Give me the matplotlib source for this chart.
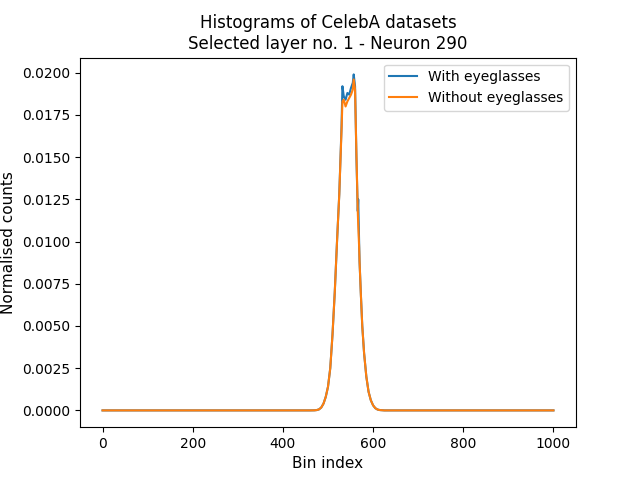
import matplotlib
matplotlib.use("Agg")
import matplotlib.pyplot as plt

# bin positions sampled along the curves (everything outside the peak is ~0)
bins = [0, 460, 470, 475, 480, 485, 490, 495, 500, 505, 510, 515, 520, 525,
        530, 532, 535, 539, 543, 547, 551, 555, 557, 560, 563, 566, 567, 569,
        570, 573, 576, 580, 585, 590, 595, 600, 605, 610, 615, 625, 1000]

with_glasses = [0, 0, 0.000005, 0.00002, 0.00006, 0.00017, 0.0004, 0.0008,
                0.0014, 0.0025, 0.0045, 0.0070, 0.0100, 0.0128, 0.0168, 0.0192,
                0.0186, 0.0184, 0.0188, 0.0187, 0.0191, 0.0194, 0.0199, 0.0192,
                0.0150, 0.0118, 0.0125, 0.0100, 0.0088, 0.0068, 0.0050, 0.0034,
                0.0020, 0.0011, 0.0006, 0.0003, 0.00013, 0.00005, 0.00002, 0, 0]

without_glasses = [0, 0, 0.000005, 0.00002, 0.00006, 0.00017, 0.0004, 0.0008,
                   0.0014, 0.0025, 0.0045, 0.0070, 0.0100, 0.0128, 0.0166, 0.0183,
                   0.0184, 0.0180, 0.0183, 0.0185, 0.0187, 0.0190, 0.0196, 0.0190,
                   0.0152, 0.0118, 0.0110, 0.0097, 0.0088, 0.0068, 0.0050, 0.0034,
                   0.0020, 0.0011, 0.0006, 0.0003, 0.00013, 0.00005, 0.00002, 0, 0]

fig, ax = plt.subplots(figsize=(6.4, 4.8), dpi=100)
ax.plot(bins, with_glasses, label="With eyeglasses")
ax.plot(bins, without_glasses, label="Without eyeglasses")
ax.set_title("Histograms of CelebA datasets\nSelected layer no. 1 - Neuron 290")
ax.set_xlabel("Bin index", fontsize=11)
ax.set_ylabel("Normalised counts", fontsize=11)
ax.legend()
plt.savefig("out.png")
